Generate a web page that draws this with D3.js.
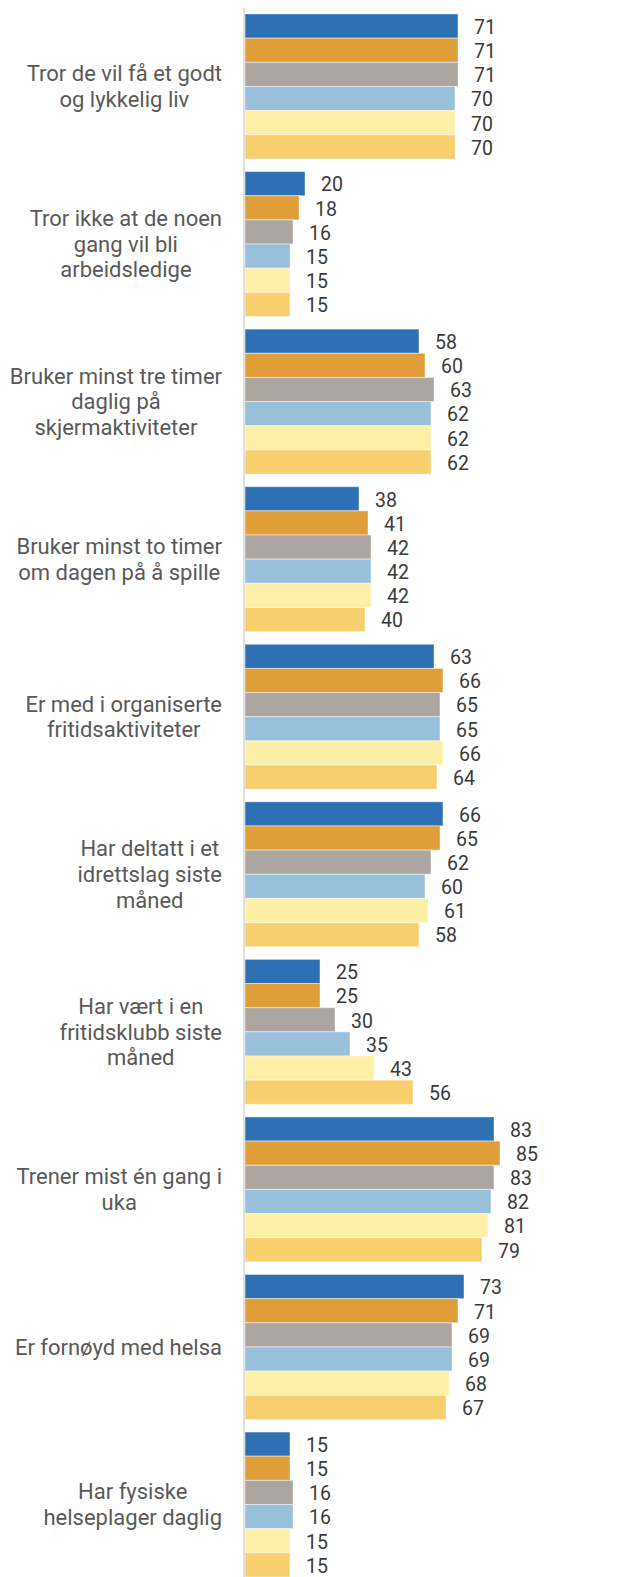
<!DOCTYPE html>
<html>
<head>
<meta charset="utf-8">
<script src="https://cdn.jsdelivr.net/npm/d3@7"></script>
<style>
  html, body { margin: 0; padding: 0; background: #fff; }
  svg { display: block; }
</style>
</head>
<body>
<div id="chart"></div>
<script>
// categories (line breaks as in the original labels)
const categories = [
  'Tror de vil få et godt\nog lykkelig liv',
  'Tror ikke at de noen\ngang vil bli\narbeidsledige',
  'Bruker minst tre timer\ndaglig på\nskjermaktiviteter',
  'Bruker minst to timer\nom dagen på å spille',
  'Er med i organiserte\nfritidsaktiviteter',
  'Har deltatt i et\nidrettslag siste\nmåned',
  'Har vært i en\nfritidsklubb siste\nmåned',
  'Trener mist én gang i\nuka',
  'Er fornøyd med helsa',
  'Har fysiske\nhelseplager daglig'
]

// six series, one value per category
const s1 = [71, 20, 58, 38, 63, 66, 25, 83, 73, 15]
const s2 = [71, 18, 60, 41, 66, 65, 25, 85, 71, 15]
const s3 = [71, 16, 63, 42, 65, 62, 30, 83, 69, 16]
const s4 = [70, 15, 62, 42, 65, 60, 35, 82, 69, 16]
const s5 = [70, 15, 62, 42, 66, 61, 43, 81, 68, 15]
const s6 = [70, 15, 62, 40, 64, 58, 56, 79, 67, 15]
const series = [s1, s2, s3, s4, s5, s6]
const colors = ['#2d70b4', '#e09e38', '#ada6a0', '#99c0da', '#fdf0a6', '#f8cf6d']

const width = 640
const height = 1577
const x0 = 245

var svg = d3.select('#chart')
  .append('svg')
  .attr('width', width)
  .attr('height', height)

const x = d3.scaleLinear().domain([0, 100]).range([x0, x0 + 300])
const y = d3.scaleBand()
  .domain(d3.range(categories.length))
  .range([14, 1577])
  .paddingInner(0.08)
  .paddingOuter(0)
const ySeries = d3.scaleBand()
  .domain(d3.range(series.length))
  .range([0, y.bandwidth()])

// bars
const groups = svg.append('g')
  .selectAll('g')
  .data(categories.map((c, i) => i))
  .enter()
  .append('g')
  .attr('transform', function (i) { return 'translate(0,' + y(i) + ')' })

groups.selectAll('rect')
  .data(function (i) { return series.map((s, k) => ({ k: k, v: s[i] })) })
  .enter()
  .append('rect')
  .attr('x', x(0))
  .attr('y', function (d) { return ySeries(d.k) })
  .attr('width', function (d) { return x(d.v) - x(0) })
  .attr('height', ySeries.bandwidth())
  .style('fill', function (d) { return colors[d.k] })
  .style('stroke', '#fff')
  .style('stroke-width', 1)
  .style('stroke-opacity', 0.45)

// value labels
groups.selectAll('text')
  .data(function (i) { return series.map((s, k) => ({ k: k, v: s[i] })) })
  .enter()
  .append('text')
  .attr('x', function (d) { return x(d.v) + 16 })
  .attr('y', function (d) { return ySeries(d.k) + ySeries.bandwidth() / 2 + 1 })
  .attr('dy', '0.35em')
  .style('font-family', 'Roboto, sans-serif')
  .style('font-size', '19.5px')
  .style('fill', '#3a3a3a')
  .text(function (d) { return d.v })

// category axis
const axis = svg.append('g')
  .attr('transform', 'translate(' + (x0 - 1) + ',0)')
  .call(d3.axisLeft(y).tickSize(0).tickSizeOuter(0).tickPadding(22).tickFormat(function (i) { return categories[i] }))

axis.select('.domain')
  .attr('d', 'M0,8V' + height)
  .style('stroke', '#e0e0e0')
  .style('stroke-width', 2)

const lineH = 25.7
axis.selectAll('.tick text').each(function (i) {
  const t = d3.select(this)
  const lines = categories[i].split('\n')
  t.text(null)
    .attr('dy', null)
    .style('font-family', 'Roboto, sans-serif')
    .style('font-size', '22px')
    .style('fill', '#595959')
    .attr('text-anchor', 'middle')
  const spans = lines.map(function (l, j) {
    return t.append('tspan')
      .attr('y', (j - (lines.length - 1) / 2) * lineH)
      .attr('dy', '0.35em')
      .text(l)
  })
  const maxW = d3.max(spans, function (s) { return s.node().getComputedTextLength() })
  const cx = -22 - maxW / 2
  spans.forEach(function (s) { s.attr('x', cx) })
})
</script>
</body>
</html>
